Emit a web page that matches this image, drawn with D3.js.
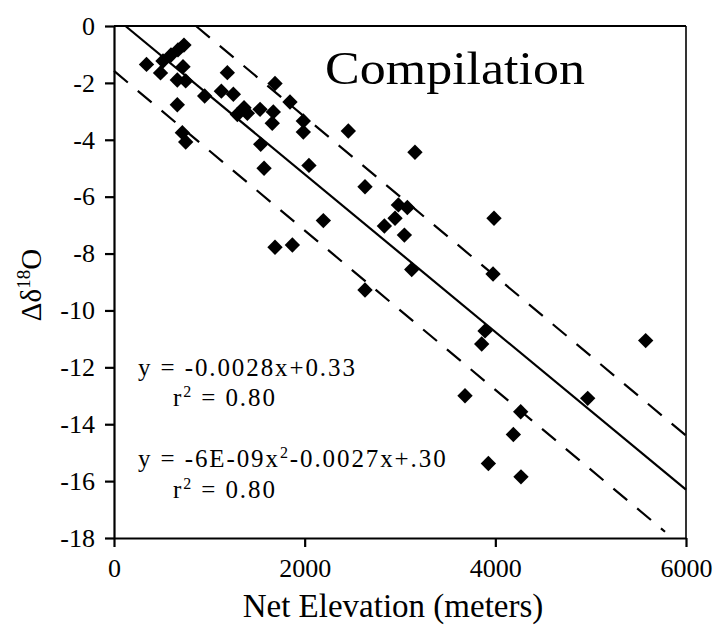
<!DOCTYPE html>
<html>
<head>
<meta charset="utf-8">
<script src="https://cdn.jsdelivr.net/npm/d3@7"></script>
<style>
  body { margin: 0; background: #fff; }
  text { font-family: "Liberation Serif", "Times New Roman", serif; fill: #000; }
  .eq { font-size: 25px; letter-spacing: 1.9px; }
</style>
</head>
<body>
<div class="chart"></div>
<script>
// elevation (m) and delta 18O
const elevation = [341, 488, 514, 598, 671, 734, 724, 664, 752, 664, 717, 752,
  951, 1189, 1126, 1252, 1364, 1294, 1399, 1532, 1671, 1660, 1689, 1846, 1986,
  1986, 1539, 1574, 2045, 2458, 3157, 2633, 2983, 3077, 2948, 2836, 3046, 3986,
  2196, 1689, 1871, 3123, 3976, 2633, 3892, 3857, 3682, 4266, 4189, 4969, 5577,
  3927, 4269];
const d18O = [-1.35, -1.65, -1.23, -1.02, -0.84, -0.67, -1.43, -1.90, -1.93, -2.77,
  -3.75, -4.08, -2.46, -1.64, -2.29, -2.40, -2.87, -3.11, -3.07, -2.93, -3.02,
  -3.42, -2.02, -2.67, -3.34, -3.73, -4.16, -5.00, -4.90, -3.69, -4.44, -5.65,
  -6.29, -6.38, -6.76, -7.03, -7.35, -6.76, -6.84, -7.78, -7.70, -8.56, -8.72,
  -9.28, -10.72, -11.18, -13.00, -13.56, -14.36, -13.09, -11.06, -15.38, -15.85];

// regression line and the two dashed envelope lines [x, y]
const fitLine = [[120, 0], [6000, -16.3]];
const upperLine = [[860, 0], [6000, -14.4]];
const lowerLine = [[0, -1.58], [5780, -17.78]];

const xTicks = [0, 2000, 4000, 6000];
const yTicks = [0, -2, -4, -6, -8, -10, -12, -14, -16, -18];

const width = 717, height = 628;
const mLeft = 114, mRight = 686, mTop = 26, mBottom = 538;

const svg = d3.select('.chart')
	.append('svg')
	.attr('width', width)
	.attr('height', height);

const x = d3.scaleLinear().domain([0, 6000]).range([mLeft, mRight]);
const y = d3.scaleLinear().domain([-18, 0]).range([mBottom, mTop]);

// frame on top and right
svg.append('line')
	.attr('x1', mLeft).attr('y1', mTop).attr('x2', mRight).attr('y2', mTop)
	.style('stroke', '#000').style('stroke-width', '2px');
svg.append('line')
	.attr('x1', mRight).attr('y1', mTop).attr('x2', mRight).attr('y2', mBottom)
	.style('stroke', '#000').style('stroke-width', '1.6px');

// axes
const yAxis = svg.append('g')
	.attr('transform', `translate(${mLeft},0)`)
	.call(d3.axisLeft(y).tickValues(yTicks).tickSize(9).tickSizeOuter(0)
		.tickPadding(10).tickFormat(d => String(d)));
const xAxis = svg.append('g')
	.attr('transform', `translate(0,${mBottom})`)
	.call(d3.axisBottom(x).tickValues(xTicks).tickSize(9).tickSizeOuter(0)
		.tickPadding(12).tickFormat(d => String(d)));

[xAxis, yAxis].forEach(a => {
	a.selectAll('path, line').style('stroke', '#000').style('stroke-width', '2.2px');
	a.selectAll('text').style('font-size', '26px')
		.style('font-family', '"Liberation Serif", "Times New Roman", serif');
});

// lines
const line = d3.line().x(d => x(d[0])).y(d => y(d[1]));
svg.append('path').attr('d', line(fitLine))
	.style('fill', 'none').style('stroke', '#000').style('stroke-width', '2.2px');
[upperLine, lowerLine].forEach(l => {
	svg.append('path').attr('d', line(l))
		.style('fill', 'none').style('stroke', '#000').style('stroke-width', '2.2px')
		.style('stroke-dasharray', '18,13');
});

// diamonds
const diamond = d3.symbol().type(d3.symbolSquare).size(118);
svg.selectAll('.pt')
	.data(elevation)
	.enter()
	.append('path')
	.attr('class', 'pt')
	.attr('d', diamond)
	.attr('transform', (d, i) => `translate(${x(d)},${y(d18O[i])}) rotate(45)`)
	.style('fill', '#000');

// title
svg.append('text')
	.attr('x', 325).attr('y', 84)
	.attr('textLength', 260).attr('lengthAdjust', 'spacingAndGlyphs')
	.style('font-size', '47px')
	.text('Compilation');

// equations
const eq1 = svg.append('text').attr('class', 'eq').attr('x', 138).attr('y', 376);
eq1.text('y = -0.0028x+0.33');

const r1 = svg.append('text').attr('class', 'eq').attr('x', 173).attr('y', 406);
r1.append('tspan').text('r');
r1.append('tspan').attr('dy', -9).style('font-size', '16px').text('2');
r1.append('tspan').attr('dy', 9).text(' = 0.80');

const eq2 = svg.append('text').attr('class', 'eq').attr('x', 138).attr('y', 467);
eq2.append('tspan').text('y = -6E-09x');
eq2.append('tspan').attr('dy', -9).style('font-size', '16px').text('2');
eq2.append('tspan').attr('dy', 9).text('-0.0027x+.30');

const r2 = svg.append('text').attr('class', 'eq').attr('x', 173).attr('y', 498);
r2.append('tspan').text('r');
r2.append('tspan').attr('dy', -9).style('font-size', '16px').text('2');
r2.append('tspan').attr('dy', 9).text(' = 0.80');

// axis titles
svg.append('text')
	.attr('x', 393).attr('y', 617)
	.attr('text-anchor', 'middle')
	.style('font-size', '33px')
	.text('Net Elevation (meters)');

const yl = svg.append('text')
	.attr('transform', 'translate(41,285) rotate(-90)')
	.attr('text-anchor', 'middle')
	.style('font-size', '29px');
yl.append('tspan').text('Δδ');
yl.append('tspan').attr('dy', -11).style('font-size', '19px').text('18');
yl.append('tspan').attr('dy', 11).text('O');
</script>
</body>
</html>
